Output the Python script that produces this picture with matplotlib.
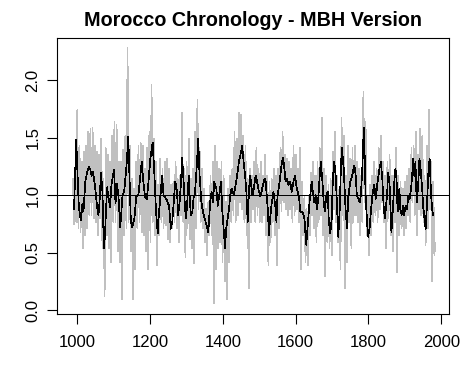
import numpy as np
import matplotlib
matplotlib.use("Agg")
import matplotlib.pyplot as plt

plt.rcParams['font.family'] = ['Liberation Sans', 'DejaVu Sans']

hi_start = 988
gray_hi = [1.14, 1.20, 1.74, 1.43, 1.29, 1.38, 1.43, 1.55, 1.58, 1.59,
           1.43, 1.38, 1.35, 1.49, 1.14, 1.41, 1.35, 1.29, 1.52, 1.64,
           1.61, 1.29, 1.29, 1.40, 1.52, 2.28, 1.43, 1.14, 1.06, 1.29,
           1.43, 1.46, 1.43, 1.23, 1.41, 1.55, 1.96, 1.49, 1.29, 1.09,
           1.32, 1.23, 1.29, 1.32, 1.23, 1.09, 1.12, 1.29, 1.14, 1.17,
           1.72, 1.23, 1.29, 1.49, 1.14, 1.23, 1.55, 1.83, 1.41, 1.23,
           1.06, 0.88, 0.94, 1.17, 1.29, 1.43, 1.29, 1.23, 1.29, 1.17,
           0.94, 1.06, 1.17, 1.23, 1.55, 1.49, 1.72, 1.70, 1.52, 1.43,
           1.14, 1.23, 1.17, 1.29, 1.41, 1.23, 1.29, 1.17, 1.35, 1.17,
           1.12, 1.14, 1.23, 1.17, 1.23, 1.41, 1.55, 1.35, 1.32, 1.29,
           1.23, 1.43, 1.35, 1.23, 1.41, 1.12, 1.00, 0.88, 1.00, 1.20,
           1.29, 1.17, 1.29, 1.41, 1.67, 1.23, 1.17, 1.09, 1.14, 1.38,
           1.55, 1.17, 1.06, 1.67, 1.52, 1.17, 1.43, 1.32, 1.41, 1.43,
           1.29, 1.23, 1.17, 1.90, 1.64, 1.00, 1.09, 1.17, 1.29, 1.23,
           1.41, 1.52, 1.29, 1.17, 1.29, 1.35, 1.17, 1.17, 1.41, 1.17,
           1.12, 1.06, 1.12, 1.17, 1.23, 1.41, 1.43, 1.55, 1.35, 1.58,
           1.52, 1.17, 1.43, 1.74, 1.29, 1.12, 0.59]
lo_start = 991
gray_lo = [0.75, 0.77, 0.71, 0.68, 0.54, 0.65, 0.71, 0.83, 0.83, 0.80,
           0.77, 0.65, 0.80, 0.54, 0.12, 0.65, 0.54, 0.42, 0.77, 0.77,
           0.51, 0.42, 0.10, 0.65, 0.71, 0.77, 0.51, 0.10, 0.36, 0.71,
           0.77, 0.68, 0.65, 0.51, 0.36, 0.59, 0.77, 0.65, 0.39, 0.65,
           0.77, 0.71, 0.74, 0.62, 0.59, 0.71, 0.77, 0.71, 0.59, 0.83,
           0.77, 0.46, 0.71, 0.62, 0.54, 0.41, 0.71, 0.88, 0.77, 0.71,
           0.59, 0.48, 0.65, 0.65, 0.06, 0.36, 0.54, 0.59, 0.42, 0.25,
           0.10, 0.42, 0.77, 0.83, 0.77, 0.83, 0.94, 0.88, 0.77, 0.65,
           0.19, 0.77, 0.88, 0.77, 0.83, 0.77, 0.77, 0.83, 0.65, 0.39,
           0.59, 0.77, 0.65, 0.39, 0.71, 0.86, 0.94, 0.88, 0.83, 0.88,
           0.77, 0.83, 0.88, 0.77, 0.36, 0.65, 0.42, 0.39, 0.65, 0.83,
           0.71, 0.59, 0.77, 0.83, 0.65, 0.30, 0.59, 0.54, 0.48, 0.88,
           0.77, 0.59, 0.36, 0.83, 0.19, 0.42, 0.77, 0.54, 0.77, 0.83,
           0.77, 0.65, 0.77, 0.94, 0.65, 0.48, 0.65, 0.77, 0.83, 0.77,
           0.88, 0.94, 0.77, 0.54, 0.80, 0.65, 0.51, 0.77, 0.33, 0.65,
           0.71, 0.65, 0.71, 0.83, 0.77, 0.94, 0.83, 0.65, 0.88, 0.83,
           0.77, 0.57, 0.71, 0.88, 0.25, 0.48]

# smoothed chronology (black line)
smooth_years = [991, 997, 1001, 1004, 1008, 1010, 1014, 1017, 1022, 1027,
                1032, 1036, 1039, 1043, 1047, 1050, 1054, 1058, 1061, 1065,
                1069, 1071, 1073, 1076, 1079, 1082, 1085, 1090, 1094, 1101,
                1105, 1109, 1113, 1118, 1124, 1129, 1136, 1140, 1144, 1147,
                1151, 1157, 1162, 1168, 1173, 1177, 1181, 1186, 1191, 1195,
                1201, 1207, 1212, 1216, 1221, 1224, 1230, 1233, 1237, 1244,
                1252, 1257, 1261, 1265, 1269, 1274, 1277, 1281, 1285, 1288,
                1292, 1296, 1299, 1303, 1306, 1309, 1312, 1316, 1320, 1323,
                1329, 1332, 1336, 1341, 1345, 1349, 1354, 1360, 1365, 1369,
                1373, 1376, 1382, 1386, 1391, 1395, 1398, 1402, 1406, 1409,
                1413, 1417, 1420, 1424, 1430, 1435, 1439, 1444, 1450, 1453,
                1457, 1461, 1464, 1468, 1472, 1475, 1481, 1485, 1490, 1494,
                1497, 1503, 1508, 1514, 1517, 1521, 1524, 1526, 1530, 1534,
                1539, 1545, 1547, 1550, 1556, 1561, 1565, 1569, 1572, 1576,
                1580, 1585, 1589, 1594, 1598, 1603, 1609, 1613, 1618, 1624,
                1627, 1629, 1633, 1638, 1644, 1647, 1651, 1655, 1658, 1662,
                1666, 1669, 1673, 1677, 1680, 1684, 1688, 1691, 1695, 1699,
                1702, 1706, 1710, 1713, 1717, 1721, 1724, 1727, 1732, 1737,
                1741, 1744, 1750, 1755, 1761, 1765, 1768, 1772, 1776, 1779,
                1783, 1787, 1790, 1792, 1796, 1799, 1803, 1807, 1812, 1816,
                1820, 1825, 1830, 1834, 1838, 1842, 1845, 1851, 1854, 1858,
                1862, 1863, 1867, 1871, 1874, 1877, 1880, 1883, 1885, 1887,
                1891, 1895, 1898, 1902, 1906, 1909, 1913, 1917, 1920, 1923,
                1926, 1929, 1931, 1933, 1937, 1940, 1944, 1948, 1950, 1955,
                1957, 1961, 1964, 1968, 1970, 1972, 1975, 1977]
smooth_vals = [0.88, 1.48, 1.15, 0.91, 0.81, 0.78, 0.93, 0.86, 1.12, 1.20,
               1.25, 1.22, 1.17, 1.20, 1.12, 1.04, 0.91, 0.83, 0.94, 1.20,
               1.03, 0.77, 0.54, 0.65, 0.88, 1.07, 0.99, 0.90, 1.10, 1.22,
               0.93, 1.10, 1.00, 0.72, 0.99, 1.04, 1.29, 1.51, 1.10, 0.78,
               0.72, 0.80, 0.99, 1.01, 1.17, 1.29, 1.13, 0.99, 0.97, 1.10,
               1.33, 1.46, 1.17, 0.87, 0.67, 0.83, 1.06, 1.17, 1.00, 0.97,
               0.91, 0.71, 0.77, 0.94, 1.12, 1.03, 0.83, 0.94, 1.12, 1.33,
               1.12, 0.88, 0.80, 0.99, 1.17, 0.97, 0.83, 0.86, 0.99, 1.01,
               1.29, 1.49, 1.17, 0.94, 0.86, 0.81, 0.75, 0.68, 0.94, 1.03,
               0.94, 1.12, 1.06, 0.91, 1.03, 1.12, 0.88, 0.71, 0.54, 0.71,
               0.80, 0.88, 1.00, 1.06, 1.00, 1.09, 1.17, 1.29, 1.38, 1.43,
               1.29, 1.17, 1.06, 0.77, 1.06, 1.17, 1.00, 1.06, 1.17, 1.12,
               1.06, 0.99, 1.06, 1.14, 1.14, 0.97, 0.86, 0.65, 0.80, 0.93,
               1.03, 0.88, 0.77, 0.99, 1.12, 1.26, 1.33, 1.23, 1.12, 1.14,
               1.09, 1.12, 1.03, 1.12, 1.17, 1.06, 0.99, 0.85, 0.86, 0.80,
               0.65, 0.57, 0.74, 0.94, 1.12, 1.03, 0.94, 1.00, 0.88, 0.97,
               1.17, 1.29, 1.14, 0.94, 0.86, 1.00, 1.03, 0.77, 0.67, 0.80,
               1.14, 1.29, 1.17, 0.94, 0.64, 0.88, 1.23, 1.41, 1.23, 0.88,
               0.71, 0.97, 1.12, 1.17, 1.26, 1.17, 1.00, 0.97, 0.94, 1.00,
               1.23, 1.59, 1.29, 1.00, 0.77, 0.64, 0.71, 0.88, 1.03, 1.09,
               0.97, 1.12, 1.23, 1.29, 1.14, 0.88, 0.80, 1.00, 1.20, 1.09,
               0.77, 0.68, 0.88, 1.12, 1.23, 1.15, 0.86, 0.94, 1.06, 0.88,
               0.83, 0.91, 0.83, 0.91, 0.88, 0.99, 0.97, 1.06, 1.17, 1.32,
               1.17, 1.29, 1.06, 0.94, 1.12, 1.32, 1.20, 1.03, 0.91, 0.77,
               0.71, 0.94, 1.17, 1.32, 1.17, 1.00, 0.88, 0.83]

x_ticks = [1000, 1200, 1400, 1600, 1800, 2000]
y_ticks = [0.0, 0.5, 1.0, 1.5, 2.0]
ref_level = 1.0

gray_years = np.arange(hi_start, hi_start + 6 * len(gray_hi) - 5, 3)
gray_vals = np.empty(len(gray_hi) + len(gray_lo))
gray_vals[0::2] = gray_hi
gray_vals[1::2] = gray_lo

fig = plt.figure(figsize=(4.68, 3.71), dpi=100)
ax = fig.add_axes([57/468, 1 - 314/371, 392/468, 276/371])

ax.plot(gray_years, gray_vals, color='#c0c0c0', lw=0.5, antialiased=False)
ax.plot(smooth_years, smooth_vals, color='black', lw=0.5, antialiased=False)
ax.axhline(ref_level, color='black', lw=0.5, antialiased=False)

ax.set_xlim(944.2, 2021.2)
ax.set_ylim(-0.032, 2.368)
ax.set_xticks(x_ticks)
ax.set_xticklabels([str(t) for t in x_ticks])
ax.set_yticks(y_ticks)
ax.set_yticklabels(['%.1f' % t for t in y_ticks], rotation=90, va='center')
ax.tick_params(direction='out', length=7, width=0.8, labelsize=12, colors='black')
ax.tick_params(axis='x', pad=8)
ax.tick_params(axis='y', pad=5)
for s in ax.spines.values():
    s.set_linewidth(0.8)

fig.text(253/468, 1 - 21/371, 'Morocco Chronology - MBH Version',
         ha='center', va='center', fontsize=14.2, fontweight='bold')

fig.savefig('out.png', dpi=100)
